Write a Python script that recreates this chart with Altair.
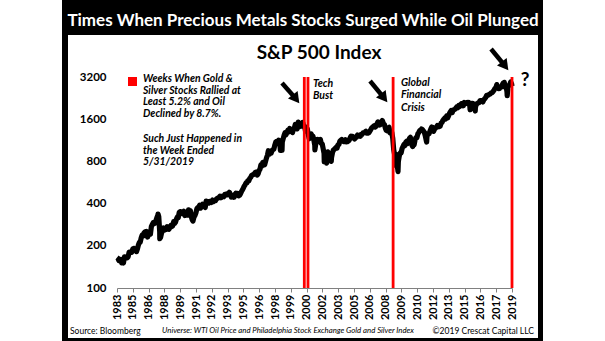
import altair as alt
import pandas as pd

# ---------------- data ----------------
# S&P 500 month-end closes, starting Dec 1983
first_year, first_month = 1983, 12
sp500_monthly = [
    165,
    163, 157, 159, 160, 151, 153, 151, 167, 166, 166, 164, 167,      # 1984
    180, 181, 181, 180, 190, 192, 191, 188, 182, 190, 202, 211,      # 1985
    212, 227, 238, 235, 247, 251, 236, 253, 231, 244, 249, 242,      # 1986
    274, 284, 292, 288, 290, 304, 318, 330, 322, 252, 230, 247,      # 1987
    257, 268, 259, 261, 262, 274, 272, 262, 272, 279, 274, 278,      # 1988
    297, 289, 295, 310, 321, 318, 346, 351, 349, 340, 346, 353,      # 1989
    329, 332, 340, 331, 361, 358, 356, 323, 306, 304, 322, 330,      # 1990
    344, 367, 375, 375, 390, 371, 388, 395, 388, 392, 375, 417,      # 1991
    409, 413, 404, 415, 415, 408, 424, 414, 418, 419, 431, 436,      # 1992
    439, 443, 452, 440, 450, 451, 448, 464, 459, 468, 462, 466,      # 1993
    482, 467, 446, 451, 457, 444, 458, 475, 463, 472, 454, 459,      # 1994
    470, 487, 501, 515, 533, 545, 562, 562, 584, 582, 605, 616,      # 1995
    636, 640, 646, 654, 669, 671, 640, 652, 687, 705, 757, 741,      # 1996
    786, 791, 757, 801, 848, 885, 954, 899, 947, 915, 955, 970,      # 1997
    980, 1049, 1102, 1112, 1091, 1134, 1121, 957, 1017, 1099, 1164, 1229,   # 1998
    1280, 1238, 1286, 1335, 1302, 1373, 1329, 1320, 1283, 1363, 1389, 1469,  # 1999
    1394, 1366, 1499, 1452, 1421, 1455, 1431, 1518, 1437, 1429, 1315, 1320,  # 2000
    1366, 1240, 1160, 1249, 1256, 1224, 1211, 1134, 1041, 1060, 1139, 1148,  # 2001
    1130, 1107, 1147, 1077, 1067, 990, 912, 916, 815, 886, 936, 880,        # 2002
    856, 841, 848, 917, 964, 975, 990, 1008, 996, 1051, 1058, 1112,         # 2003
    1131, 1145, 1126, 1107, 1121, 1141, 1102, 1104, 1115, 1130, 1174, 1212,  # 2004
    1181, 1204, 1181, 1157, 1192, 1191, 1234, 1220, 1229, 1207, 1249, 1248,  # 2005
    1280, 1281, 1295, 1311, 1270, 1270, 1277, 1304, 1336, 1378, 1401, 1418,  # 2006
    1438, 1407, 1421, 1482, 1531, 1503, 1455, 1474, 1527, 1549, 1481, 1468,  # 2007
    1379, 1331, 1323, 1386, 1400, 1280, 1267, 1283, 1165, 969, 896, 903,     # 2008
    826, 735, 798, 873, 919, 919, 987, 1021, 1057, 1036, 1096, 1115,        # 2009
    1074, 1104, 1169, 1187, 1089, 1031, 1102, 1049, 1141, 1183, 1181, 1258,  # 2010
    1286, 1327, 1326, 1364, 1345, 1321, 1292, 1219, 1131, 1253, 1247, 1258,  # 2011
    1312, 1366, 1408, 1398, 1310, 1362, 1379, 1407, 1441, 1412, 1416, 1426,  # 2012
    1498, 1515, 1569, 1598, 1631, 1606, 1686, 1633, 1682, 1757, 1806, 1848,  # 2013
    1783, 1859, 1872, 1884, 1924, 1960, 1931, 2003, 1972, 2018, 2068, 2059,  # 2014
    1995, 2105, 2068, 2086, 2107, 2063, 2104, 1972, 1920, 2079, 2080, 2044,  # 2015
    1940, 1932, 2060, 2065, 2097, 2099, 2174, 2171, 2168, 2126, 2199, 2239,  # 2016
    2279, 2364, 2363, 2384, 2412, 2423, 2470, 2472, 2519, 2575, 2648, 2674,  # 2017
    2824, 2714, 2641, 2648, 2705, 2718, 2816, 2902, 2914, 2712, 2760, 2507,  # 2018
    2704, 2784, 2834, 2946, 2860,                                          # 2019
]

# weekly extremes (decimal year, close)
extra_t = [1987.64, 1987.80, 1990.78, 1998.77, 2000.23, 2001.72, 2002.56, 2002.77,
           2003.19, 2007.77, 2008.89, 2009.18, 2010.50, 2011.75, 2015.65, 2016.11,
           2018.72, 2018.98, 2019.41]
extra_v = [337, 225, 300, 960, 1527, 966, 797, 777,
           800, 1565, 752, 677, 1022, 1099, 1868, 1829,
           2931, 2351, 2752]

# weeks when gold & silver stocks rallied and oil plunged
event_t = [2000.77, 2001.10, 2008.74, 2019.41]

x_start, x_end = 1983.96, 2019.41
tick_labels = ["1983", "1985", "1986", "1988", "1989", "1991", "1992", "1993", "1995",
               "1996", "1998", "1999", "2000", "2002", "2003", "2005", "2006", "2008",
               "2009", "2010", "2012", "2013", "2015", "2016", "2017", "2019"]
y_ticks = [100, 200, 400, 800, 1600, 3200]

# arrows (tail -> head), data coordinates
arrow_t0 = [1998.77, 2006.67, 2017.53]
arrow_v0 = [2900, 2997, 5070]
arrow_t1 = [2000.03, 2007.93, 2018.79]
arrow_v1 = [2230, 2266, 3835]

# annotation lines next to the red lines
ann_text = ["Tech", "Bust", "Global", "Financial", "Crisis"]
ann_t = [2001.55, 2001.55, 2009.45, 2009.45, 2009.45]
ann_v = [2853, 2343, 2900, 2381, 1923]

q_t, q_v = [2020.59], [3046]

title_text = "Times When Precious Metals Stocks Surged While Oil Plunged"
subtitle_text = "S&P 500 Index"
legend_lines_1 = ["Weeks When Gold &", "Silver Stocks Rallied at",
                  "Least 5.2% and Oil", "Declined by 8.7%."]
legend_lines_2 = ["Such Just Happened in", "the Week Ended", "5/31/2019"]
footer_left = "Source: Bloomberg"
footer_mid = "Universe: WTI Oil Price and Philadelphia Stock Exchange Gold and Silver Index"
footer_right = "\u00a92019 Crescat Capital LLC"

# ---------------- build tables ----------------
rows = []
yy, mm = first_year, first_month
for val in sp500_monthly:
    rows.append({"t": yy + mm / 12 - 0.04, "v": val})
    mm += 1
    if mm > 12:
        mm = 1
        yy += 1
for t, v in zip(extra_t, extra_v):
    rows.append({"t": t, "v": v})
df = pd.DataFrame(rows).sort_values("t").reset_index(drop=True)

step = (x_end - x_start) / (len(tick_labels) - 1)
tick_pos = [round(x_start + i * step, 4) for i in range(len(tick_labels))]
label_expr = ("[" + ",".join(f"'{l}'" for l in tick_labels) + "]"
              + f"[round((datum.value - {x_start}) / {step})]")

events = pd.DataFrame({"t": event_t})
arrows = pd.DataFrame({"t0": arrow_t0, "v0": arrow_v0, "t1": arrow_t1, "v1": arrow_v1})
ann = pd.DataFrame({"t": ann_t, "v": ann_v, "label": ann_text})
qm = pd.DataFrame({"t": q_t, "v": q_v})
one = alt.Data(values=[{}])

FONT = "Lato"
xscale = alt.Scale(domain=[x_start, x_end], nice=False, zero=False)
yscale = alt.Scale(type="log", domain=[100, 3200], nice=False)

x_axis = alt.Axis(values=tick_pos, labelExpr=label_expr, title=None, zindex=1,
                  labelAngle=270, labelAlign="right", labelBaseline="middle",
                  labelFont=FONT, labelFontWeight="bold", labelFontSize=11,
                  labelColor="black", domainColor="#808080", tickColor="#808080",
                  tickSize=4, labelPadding=2, grid=False,
                  labelOverlap=False, labelFlush=False)
y_axis = alt.Axis(values=y_ticks, format="d", title=None, zindex=1,
                  labelFont=FONT, labelFontWeight="bold", labelFontSize=11.5,
                  labelColor="black", ticks=False, tickSize=0, domain=False,
                  grid=False, labelPadding=11, labelOverlap=False)


def X(field):
    return alt.X(field, scale=xscale, axis=x_axis)


def Y(field):
    return alt.Y(field, scale=yscale, axis=y_axis)


# ---------------- layers ----------------
frame = alt.Chart(one).mark_rect(color="black").encode(
    x=alt.value(-55), x2=alt.value(426), y=alt.value(-77), y2=alt.value(264))
inner = alt.Chart(one).mark_rect(color="white").encode(
    x=alt.value(-49), x2=alt.value(421), y=alt.value(-42), y2=alt.value(261))

line = alt.Chart(df).mark_line(color="black", strokeWidth=5.2, strokeJoin="round").encode(
    x=X("t:Q"), y=Y("v:Q"))

red = alt.Chart(events).mark_rule(color="#ff0000", strokeWidth=2.8).encode(
    x=X("t:Q"), y=alt.datum(100), y2=alt.datum(3200))

shaft = alt.Chart(arrows).mark_rule(color="black", strokeWidth=4.5).encode(
    x=X("t0:Q"), x2="t1:Q", y=Y("v0:Q"), y2="v1:Q")
head = alt.Chart(arrows).mark_point(shape="triangle-up", filled=True, size=150,
                                    angle=142, color="black", opacity=1).encode(
    x=X("t1:Q"), y=Y("v1:Q"))

ann_layer = alt.Chart(ann).mark_text(align="left", baseline="middle", font=FONT,
                                     fontStyle="italic", fontWeight="bold",
                                     fontSize=10.5, color="black").encode(
    x=X("t:Q"), y=Y("v:Q"), text="label:N")

qmark = alt.Chart(qm).mark_text(align="center", baseline="middle", font=FONT,
                                fontWeight="bold", fontSize=19, color="black",
                                text="?").encode(x=X("t:Q"), y=Y("v:Q"))

title = alt.Chart(one).mark_text(text=title_text, font=FONT, fontWeight="bold",
                                 fontSize=17, color="white", align="center",
                                 baseline="middle").encode(
    x=alt.value(186), y=alt.value(-56))
subtitle = alt.Chart(one).mark_text(text=subtitle_text, font=FONT, fontWeight="bold",
                                    fontSize=19, color="black", align="center",
                                    baseline="middle").encode(
    x=alt.value(202), y=alt.value(-24))

legend_sq = alt.Chart(one).mark_rect(color="#ff0000").encode(
    x=alt.value(11), x2=alt.value(20), y=alt.value(0), y2=alt.value(9))
legend_t1 = alt.Chart(one).mark_text(text=legend_lines_1, font=FONT, fontWeight="bold",
                                     fontStyle="italic", fontSize=10.4, lineHeight=11.6,
                                     align="left", baseline="top", color="black").encode(
    x=alt.value(26), y=alt.value(-3))
legend_t2 = alt.Chart(one).mark_text(text=legend_lines_2, font=FONT, fontWeight="bold",
                                     fontStyle="italic", fontSize=10.4, lineHeight=11.6,
                                     align="left", baseline="top", color="black").encode(
    x=alt.value(26), y=alt.value(57))

foot_l = alt.Chart(one).mark_text(text=footer_left, font=FONT, fontSize=8.5,
                                  align="left", baseline="middle", color="black").encode(
    x=alt.value(-47), y=alt.value(254))
foot_m = alt.Chart(one).mark_text(text=footer_mid, font=FONT, fontSize=7.8,
                                  fontStyle="italic", align="center", baseline="middle",
                                  color="black").encode(
    x=alt.value(171), y=alt.value(254))
foot_r = alt.Chart(one).mark_text(text=footer_right, font=FONT, fontSize=8.5,
                                  align="right", baseline="middle", color="black").encode(
    x=alt.value(417), y=alt.value(254))

chart = alt.layer(
    frame, inner, line, red, shaft, head, ann_layer, qmark, title, subtitle,
    legend_sq, legend_t1, legend_t2, foot_l, foot_m, foot_r
).properties(
    width=395, height=211,
    padding={"left": 117, "top": 77, "right": 93, "bottom": 53},
    autosize=alt.AutoSizeParams(type="none"),
    background="white",
).configure_view(stroke=None).configure(font=FONT)

chart.save("out.html", embed_options={"renderer": "svg", "actions": False})
